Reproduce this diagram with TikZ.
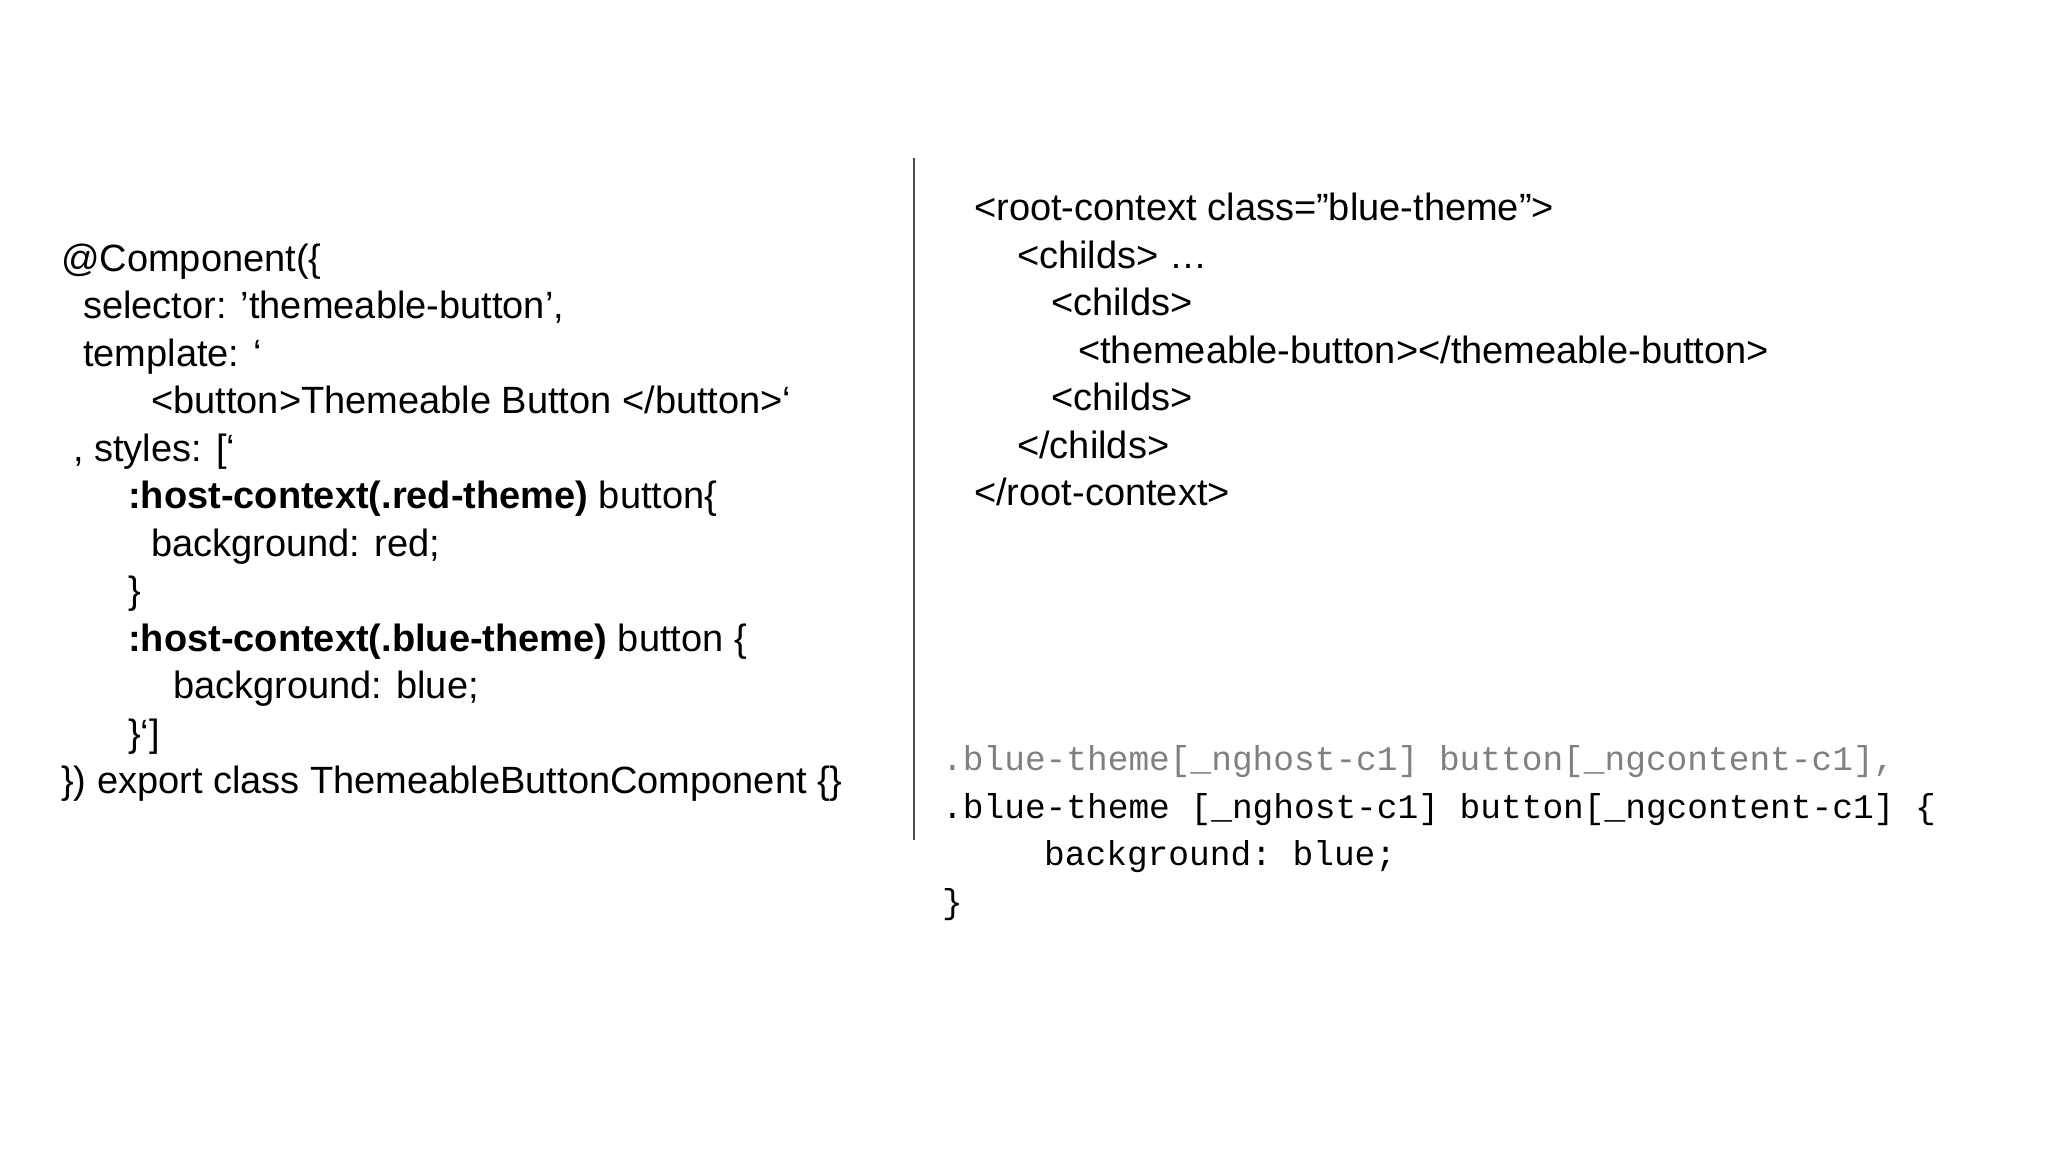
\documentclass[tikz,border=0pt]{standalone}
\usepackage{fontspec}
\setmainfont{Liberation Sans}
\setmonofont{Liberation Mono}
\definecolor{codegray}{HTML}{808080}
\begin{document}
\begin{tikzpicture}[x=1pt,y=-1pt,
  txt/.style={anchor=base west,inner sep=0pt,font=\fontsize{38}{46}\selectfont},
  code/.style={anchor=base west,inner sep=0pt,font=\ttfamily\fontsize{34.5}{46}\selectfont}]
\useasboundingbox (0,0) rectangle (2048,1152);
\node[txt] (l1) at (61,271) {@Component(\{};
\node[txt] (l2) at (83,318) {selector: 'themeable-button',};
\node[txt] (l3) at (83,366) {template: `};
\node[txt] (l4) at (151,413) {<button>Themeable Button </button>`};
\node[txt] (l5) at (73,461) {, styles: [`};
\node[txt] (l6) at (128,508) {\textbf{:host-context(.red-theme)} button\{};
\node[txt] (l7) at (151,556) {background: red;};
\node[txt] (l8) at (128,603) {\}};
\node[txt] (l9) at (128,651) {\textbf{:host-context(.blue-theme)} button \{};
\node[txt] (l10) at (173,698) {background: blue;};
\node[txt] (l11) at (128,746) {\}`]};
\node[txt] (l12) at (61,793) {\}) export class ThemeableButtonComponent \{\}};
\coordinate (vt) at (914,158);
\coordinate (vb) at (914,840);
\draw[line width=1.5pt,black!70] (vt) -- (vb);
\node[txt] (r1) at (974,220) {<root-context class="blue-theme">};
\node[txt] (r2) at (1017,268) {<childs> …};
\node[txt] (r3) at (1051,315) {<childs>};
\node[txt] (r4) at (1078,363) {<themeable-button></themeable-button>};
\node[txt] (r5) at (1051,410) {<childs>};
\node[txt] (r6) at (1017,458) {</childs>};
\node[txt] (r7) at (974,505) {</root-context>};
\node[code,codegray] (c1) at (942,770) {.blue-theme[\_nghost-c1] button[\_ngcontent-c1],};
\node[code] (c2) at (942,818) {.blue-theme [\_nghost-c1] button[\_ngcontent-c1] \{};
\node[code] (c3) at (1044,865) {background: blue;};
\node[code] (c4) at (942,913) {\}};
\end{tikzpicture}
\end{document}
